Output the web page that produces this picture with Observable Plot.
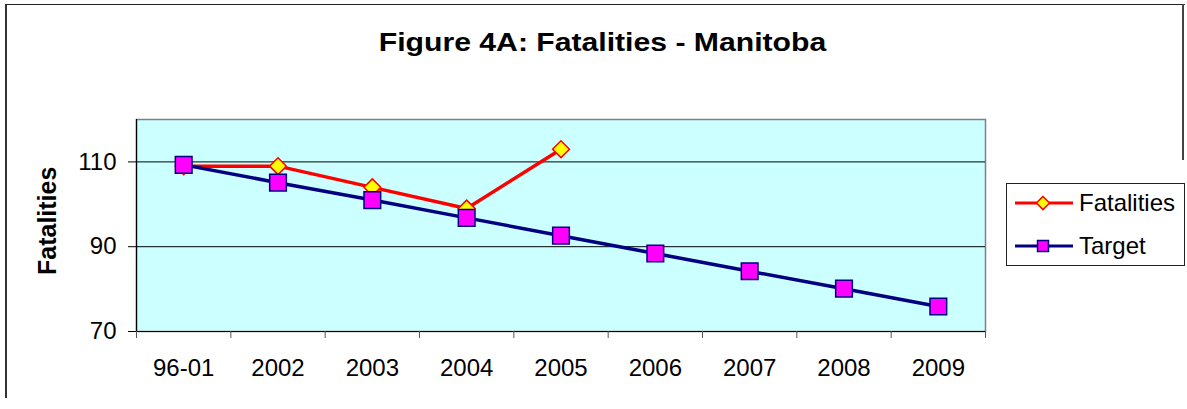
<!DOCTYPE html>
<html>
<head>
<meta charset="utf-8">
<script src="https://cdn.jsdelivr.net/npm/d3@7"></script>
<script src="https://cdn.jsdelivr.net/npm/@observablehq/plot@0.6"></script>
<style>
  html, body { margin: 0; padding: 0; background: #fff; }
  body { font-family: "Liberation Sans", Arial, sans-serif; }
  #wrap { position: relative; width: 1187px; height: 409px; overflow: hidden; }
  #chart svg { position: absolute; left: 0; top: 0; }
  .abs { position: absolute; }
</style>
</head>
<body>
<div id="wrap">
  <div id="chart"></div>
  <div class="abs" style="left:5px; top:4px; width:1178px; height:393px; border-left:2px solid #333; border-top:1px solid #222;"></div>
  <div class="abs" style="left:1182px; top:4px; width:2px; height:156px; background:#444;"></div>
  <div class="abs" id="title" style="left:0; top:29px; width:1205px; text-align:center; font-weight:bold; font-size:26px; line-height:26px; transform:scaleX(1.16); transform-origin:602.5px 0;">Figure 4A: Fatalities - Manitoba</div>
  <div class="abs" id="ylabel" style="left:-3px; top:212px; width:100px; text-align:center; font-weight:bold; font-size:25px; line-height:26px; transform:rotate(-90deg); transform-origin:50px 13px;">Fatalities</div>
  <div class="abs" id="legend" style="left:1006px; top:183px; width:177px; height:81px; border:1px solid #222; background:#fff;"></div>
</div>
<script>
const categories = ["96-01", "2002", "2003", "2004", "2005", "2006", "2007", "2008", "2009"];
const fatalities = [109, 109, 104, 99, 113];
const target = [109.3, 105.1, 101.0, 96.8, 92.6, 88.4, 84.2, 80.1, 75.9];
const yTicks = [70, 90, 110];
const yDomain = [70, 120];
const seriesNames = ["Fatalities", "Target"];

const fatalData = fatalities.map((v, i) => ({i, v}));
const targetData = target.map((v, i) => ({i, v}));
const xDomain = [-0.5, categories.length - 0.5];
const boundaries = d3.range(categories.length + 1).map(i => i - 0.5);
const centers = d3.range(categories.length);

const chart = Plot.plot({
  width: 1187,
  height: 409,
  marginLeft: 136,
  marginRight: 202,
  marginTop: 119,
  marginBottom: 78,
  style: {fontFamily: "'Liberation Sans', Arial, sans-serif", fontSize: "24px", color: "#000", background: "transparent"},
  x: {type: "linear", domain: xDomain},
  y: {domain: yDomain},
  marks: [
    Plot.frame({fill: "#ccffff", stroke: "#808080", strokeWidth: 1.5}),
    Plot.gridY([90, 110], {stroke: "#000", strokeOpacity: 1, strokeWidth: 1}),
    Plot.ruleY([yDomain[0]], {stroke: "#000", strokeWidth: 1.2}),
    Plot.ruleX([xDomain[0]], {stroke: "#000", strokeWidth: 1.2}),
    Plot.axisY(yTicks, {tickSize: 8, tickPadding: 12, fontSize: 24, stroke: "#000", label: null}),
    Plot.axisX(boundaries, {tickSize: 7, tickFormat: () => "", stroke: "#555", label: null}),
    Plot.axisX(centers, {tickSize: 0, tickPadding: 27, fontSize: 24, tickFormat: i => categories[i], label: null}),
    Plot.line(fatalData, {x: "i", y: "v", stroke: "#ff0000", strokeWidth: 3.5}),
    Plot.dot(fatalData, {x: "i", y: "v", symbol: "diamond2", r: 7.6, fill: "#ffff00", stroke: "#ff0000", strokeWidth: 1.5}),
    Plot.line(targetData, {x: "i", y: "v", stroke: "#000080", strokeWidth: 3.5}),
    Plot.dot(targetData, {x: "i", y: "v", symbol: "square", r: 9.4, fill: "#ff00ff", stroke: "#000080", strokeWidth: 1.5})
  ]
});
document.getElementById("chart").appendChild(chart);

// Legend
const legendItems = [
  {name: seriesNames[0], line: "#ff0000", fill: "#ffff00", stroke: "#ff0000", symbol: d3.symbolDiamond2, size: 110},
  {name: seriesNames[1], line: "#000080", fill: "#ff00ff", stroke: "#000080", symbol: d3.symbolSquare, size: 120}
];
const legend = d3.select("#legend");
legendItems.forEach((it, k) => {
  const row = legend.append("div")
    .style("position", "absolute")
    .style("left", "7px")
    .style("top", (k === 0 ? 4 : 47) + "px")
    .style("height", "30px")
    .style("display", "flex")
    .style("align-items", "center");
  const svg = row.append("svg").attr("width", 60).attr("height", 30).style("display", "block");
  svg.append("line").attr("x1", 1).attr("x2", 59).attr("y1", 15).attr("y2", 15)
    .attr("stroke", it.line).attr("stroke-width", 3);
  svg.append("path").attr("transform", "translate(29,15)")
    .attr("d", d3.symbol(it.symbol, it.size)())
    .attr("fill", it.fill).attr("stroke", it.stroke).attr("stroke-width", 1.5);
  row.append("span").text(it.name)
    .style("font-size", "24px").style("margin-left", "5px").style("line-height", "30px");
});
</script>
</body>
</html>
